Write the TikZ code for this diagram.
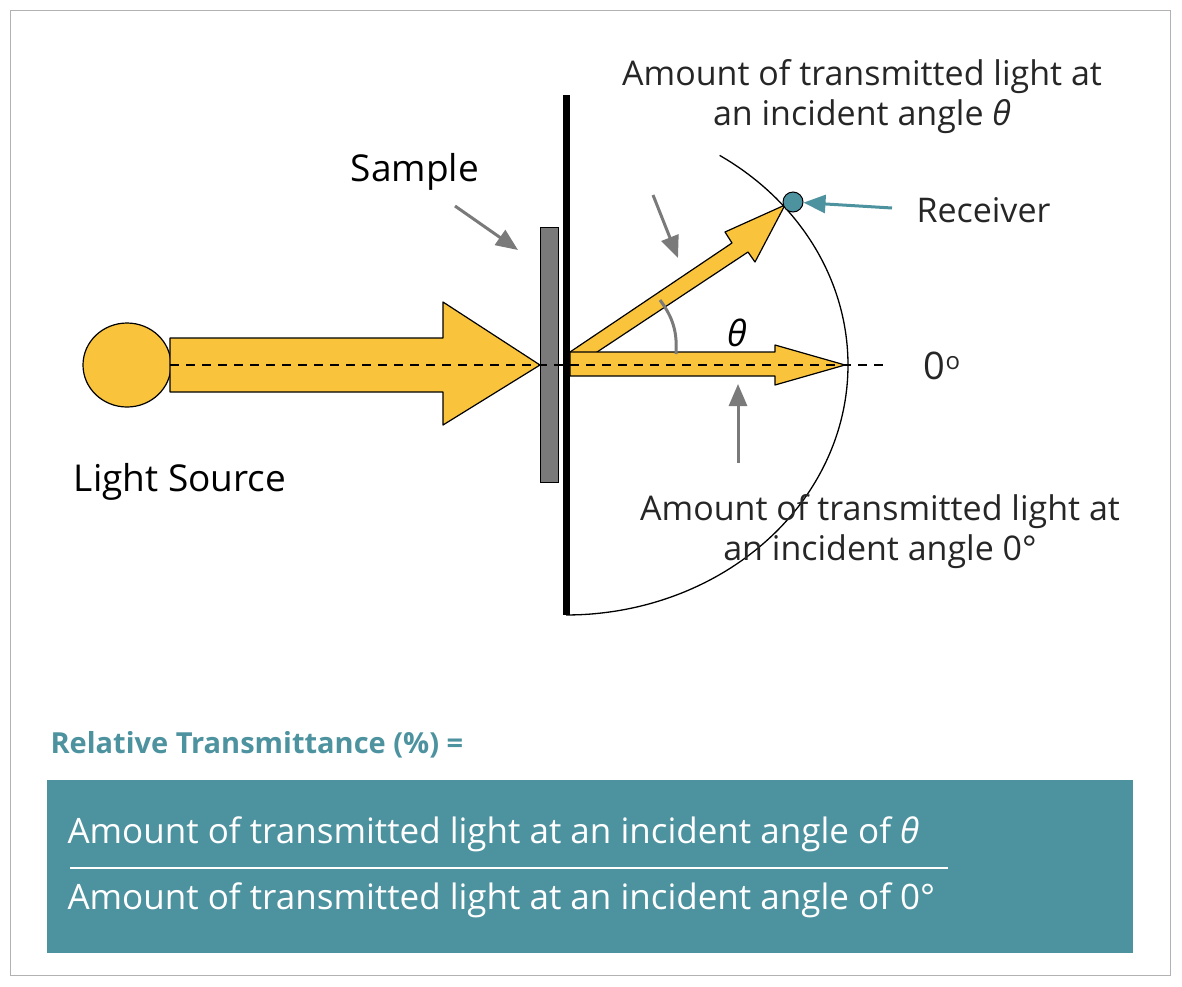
\documentclass[tikz,border=0pt]{standalone}
\usepackage{fontspec}
\setmainfont{Open Sans}
\usetikzlibrary{arrows.meta,shapes.geometric}
\definecolor{yel}{HTML}{F9C43C}
\definecolor{teal}{HTML}{4D929F}
\definecolor{gr}{HTML}{7A7A7A}
\begin{document}
\begin{tikzpicture}[x=1pt,y=-1pt,
  lbl/.style={font=\fontsize{34}{40}\selectfont\color{black!85}},
  flbl/.style={font=\fontsize{35}{40}\selectfont\color{white}},
  garrow/.style={draw=gr,line width=3pt,-{Triangle[length=22pt,width=18pt]}},
  yshape/.style={fill=yel,draw=black,line width=1.2pt,line join=round}]
\useasboundingbox (0,0) rectangle (1182,986);
\draw[black!30,line width=1pt] (10,10) rectangle (1170,975);
% light source
\node[yshape,ellipse,minimum width=88pt,minimum height=84pt,draw,fill=yel,inner sep=0] (src) at (127,365) {};
\draw[yshape] (170,338) -- (443,338) -- (443,302) -- (540,365) -- (443,425) -- (443,392) -- (170,392) -- cycle;
% sample
\node[fill=gr,draw=black,line width=1pt,minimum width=18pt,minimum height=255pt,inner sep=0] (samp) at (549,355) {};
\draw[line width=7pt] (566,95) -- (566,615);
% arc
\draw[line width=1.3pt] plot[domain=57:-90,samples=60,smooth] ({566+282*cos(\x)},{365-250*sin(\x)});
% diagonal arrow
\draw[yshape] (570,352) -- (732,243) -- (725,232) -- (785,205) -- (755,262) -- (748,252) -- (582,362) -- cycle;
% horizontal arrow
\draw[yshape] (570,352) -- (775,352) -- (775,345) -- (845,365) -- (775,385) -- (775,376) -- (570,376) -- cycle;
\draw[dash pattern=on 9pt off 7pt,line width=2pt] (170,365) -- (890,365);
% receiver
\node[circle,fill=teal,draw=black,line width=1pt,minimum size=20pt,inner sep=0] (rec) at (793,202) {};
\coordinate (r0) at (892,208);
\draw[draw=teal,line width=3pt,-{Triangle[length=22pt,width=18pt]}] (r0) -- (rec);
\node[lbl,anchor=west] (rl) at (913,210) {Receiver};
% angle
\draw[gr,line width=3pt] (660,300) to[bend left=20] (676,354);
\node[font=\fontsize{36}{40}\selectfont\itshape] (th) at (737,333) {θ};
% gray arrows
\coordinate (a1) at (455,206); \coordinate (a1e) at (518,250);
\draw[garrow] (a1) -- (a1e);
\coordinate (a2) at (653,195); \coordinate (a2e) at (678,258);
\draw[garrow] (a2) -- (a2e);
\coordinate (a3) at (738,463); \coordinate (a3e) at (738,384);
\draw[garrow] (a3) -- (a3e);
% texts
\node[font=\fontsize{37}{40}\selectfont] (sl) at (415,172) {Sample};
\node[font=\fontsize{37}{40}\selectfont] (ls) at (180,482) {Light Source};
\node[font=\fontsize{38}{40}\selectfont\color{black!85}] (z) at (942,366) {0\raisebox{0.5ex}{\fontsize{24}{24}\selectfont o}};
\node[lbl,align=center] (t1) at (862,97) {Amount of transmitted light at\\an incident angle {\itshape θ}};
\node[lbl,align=center] (t2) at (880,532) {Amount of transmitted light at\\an incident angle 0°};
\node[font=\bfseries\fontsize{29}{34}\selectfont\color{teal},anchor=west] (rt) at (47,745) {Relative Transmittance (\%) =};
\node[fill=teal,minimum width=1086pt,minimum height=173pt,inner sep=0,anchor=north west] (box) at (47,780) {};
\node[flbl,anchor=west] (f1) at (64,834) {Amount of transmitted light at an incident angle of {\itshape θ}};
\draw[white,line width=1.5pt] (70,868) -- (948,868);
\node[flbl,anchor=west] (f2) at (64,900) {Amount of transmitted light at an incident angle of 0°};
\end{tikzpicture}
\end{document}
